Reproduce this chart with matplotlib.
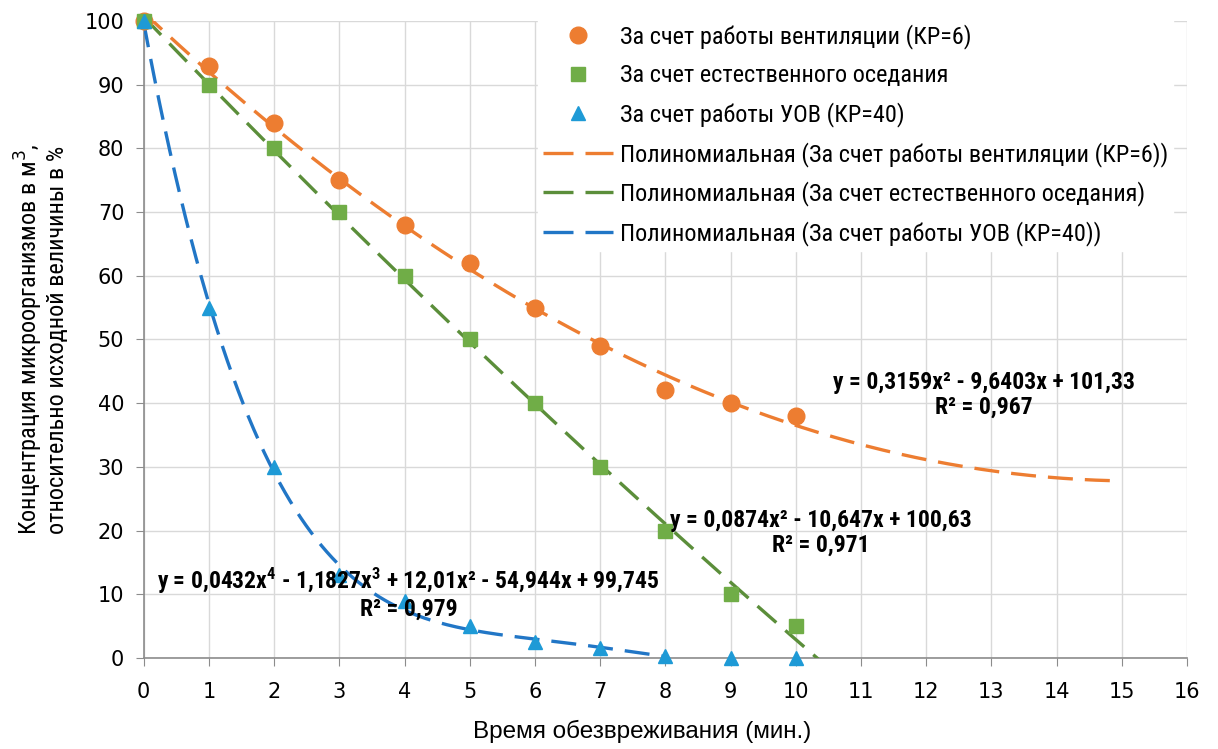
import numpy as np
import matplotlib
matplotlib.use("Agg")
import matplotlib.pyplot as plt
from matplotlib.lines import Line2D

# ---- data ----
x_vals = [0, 1, 2, 3, 4, 5, 6, 7, 8, 9, 10]
vent = [100, 93, 84, 75, 68, 62, 55, 49, 42, 40, 38]
sett = [100, 90, 80, 70, 60, 50, 40, 30, 20, 10, 5]
uov = [100, 55, 30, 13, 9, 5, 2.5, 1.5, 0.3, 0, 0]

vent_coef = [0.3159, -9.6403, 101.33]
sett_coef = [0.0874, -10.647, 100.63]
uov_coef = [0.0432, -1.1827, 12.01, -54.944, 99.745]

vent_range = (0, 15)
sett_range = (0, 10.4)
uov_range = (0, 8)

labels = ["За счет работы вентиляции (КР=6)",
          "За счет естественного оседания",
          "За счет работы УОВ (КР=40)",
          "Полиномиальная (За счет работы вентиляции (КР=6))",
          "Полиномиальная (За счет естественного оседания)",
          "Полиномиальная (За счет работы УОВ (КР=40))"]
eq_vent = "y = 0,3159x² - 9,6403x + 101,33\nR² = 0,967"
eq_sett = "y = 0,0874x² - 10,647x + 100,63\nR² = 0,971"
eq_uov = "y = 0,0432x$^4$ - 1,1827x$^3$ + 12,01x² - 54,944x + 99,745\nR² = 0,979"

x_ticks = list(range(0, 17))
y_ticks = list(range(0, 101, 10))

# ---- style ----
NARROW = ["Roboto Condensed", "DejaVu Sans"]
plt.rcParams['font.family'] = NARROW
plt.rcParams['mathtext.fontset'] = 'custom'
plt.rcParams['mathtext.rm'] = 'Roboto Condensed:bold'
plt.rcParams['mathtext.it'] = 'Roboto Condensed:bold'
plt.rcParams['mathtext.bf'] = 'Roboto Condensed:bold'

c_or = "#ED7D31"
c_gr_m = "#70AD47"
c_gr_l = "#5B8E3A"
c_bl_m = "#1E9AD6"
c_bl_l = "#2176C6"

fig = plt.figure(figsize=(12.18, 7.49), dpi=100)
ax = fig.add_axes([0.118, 0.1215, 0.8565, 0.8505])

dash = (0, (7.5, 3.6))
lw = 2.4

def trend(coef, rng):
    xs = np.linspace(rng[0], rng[1], 300)
    return xs, np.polyval(coef, xs)

xs, ys = trend(vent_coef, vent_range)
ax.plot(xs, ys, color=c_or, lw=lw, linestyle=dash, zorder=3)
xs, ys = trend(sett_coef, sett_range)
ax.plot(xs, ys, color=c_gr_l, lw=lw, linestyle=dash, zorder=3)
xs, ys = trend(uov_coef, uov_range)
ax.plot(xs, ys, color=c_bl_l, lw=lw, linestyle=dash, zorder=3)

ax.plot(x_vals, vent, 'o', color=c_or, ms=12, ls='none', zorder=4, clip_on=False)
ax.plot(x_vals, sett, 's', color=c_gr_m, ms=10, ls='none', zorder=4, clip_on=False)
ax.plot(x_vals, uov, '^', color=c_bl_m, ms=10, ls='none', zorder=5, clip_on=False)

ax.set_xlim(0, 16)
ax.set_ylim(0, 100)
ax.set_xticks(x_ticks)
ax.set_yticks(y_ticks)
ax.grid(True, color="#d9d9d9", lw=1)
ax.set_axisbelow(True)
for s in ['top', 'right']:
    ax.spines[s].set_visible(False)
for s in ['left', 'bottom']:
    ax.spines[s].set_color("#8c8c8c")
    ax.spines[s].set_linewidth(1.2)
ax.tick_params(axis='x', length=6, color="#8c8c8c", labelsize=15, pad=11)
ax.tick_params(axis='y', length=6, color="#8c8c8c", labelsize=15, pad=8)
for t in ax.get_yticklabels() + ax.get_xticklabels():
    t.set_fontfamily("DejaVu Sans")

ax.set_xlabel("Время обезвреживания (мин.)", fontsize=17.5,
              fontfamily=["Liberation Sans", "DejaVu Sans"])
ax.xaxis.set_label_coords(0.478, -0.097)
ax.set_ylabel("Концентрация микроорганизмов в м$^3$,\nотносительно исходной величины в %",
              fontsize=17.5, labelpad=11, linespacing=1.05)
ax.yaxis.label.set_math_fontfamily('dejavusans')

# equations
ax.text(12.88, 41.3, eq_vent, ha='center', va='center', fontsize=17,
        fontweight='bold', linespacing=1.1, zorder=6)
ax.text(10.38, 19.6, eq_sett, ha='center', va='center', fontsize=17,
        fontweight='bold', linespacing=1.1, zorder=6)
ax.text(4.06, 10.2, eq_uov, ha='center', va='center', fontsize=17,
        fontweight='bold', linespacing=1.1, zorder=6)

handles = [
    Line2D([], [], marker='o', color=c_or, ls='none', ms=12),
    Line2D([], [], marker='s', color=c_gr_m, ls='none', ms=9.5),
    Line2D([], [], marker='^', color=c_bl_m, ls='none', ms=10.5),
    Line2D([], [], color=c_or, lw=lw, ls=(0, (9, 3.6))),
    Line2D([], [], color=c_gr_l, lw=lw, ls=(0, (9, 3.6))),
    Line2D([], [], color=c_bl_l, lw=lw, ls=(0, (9, 3.6))),
]
leg = fig.legend(handles, labels, loc='upper left', bbox_to_anchor=(0.4417, 0.974),
                 fontsize=17.5, frameon=True, fancybox=False, edgecolor='white',
                 framealpha=1, handlelength=2.88, labelspacing=0.61, borderpad=0.2,
                 handletextpad=0.3, borderaxespad=0)
leg.set_zorder(7)

fig.savefig("out.png", dpi=100)
